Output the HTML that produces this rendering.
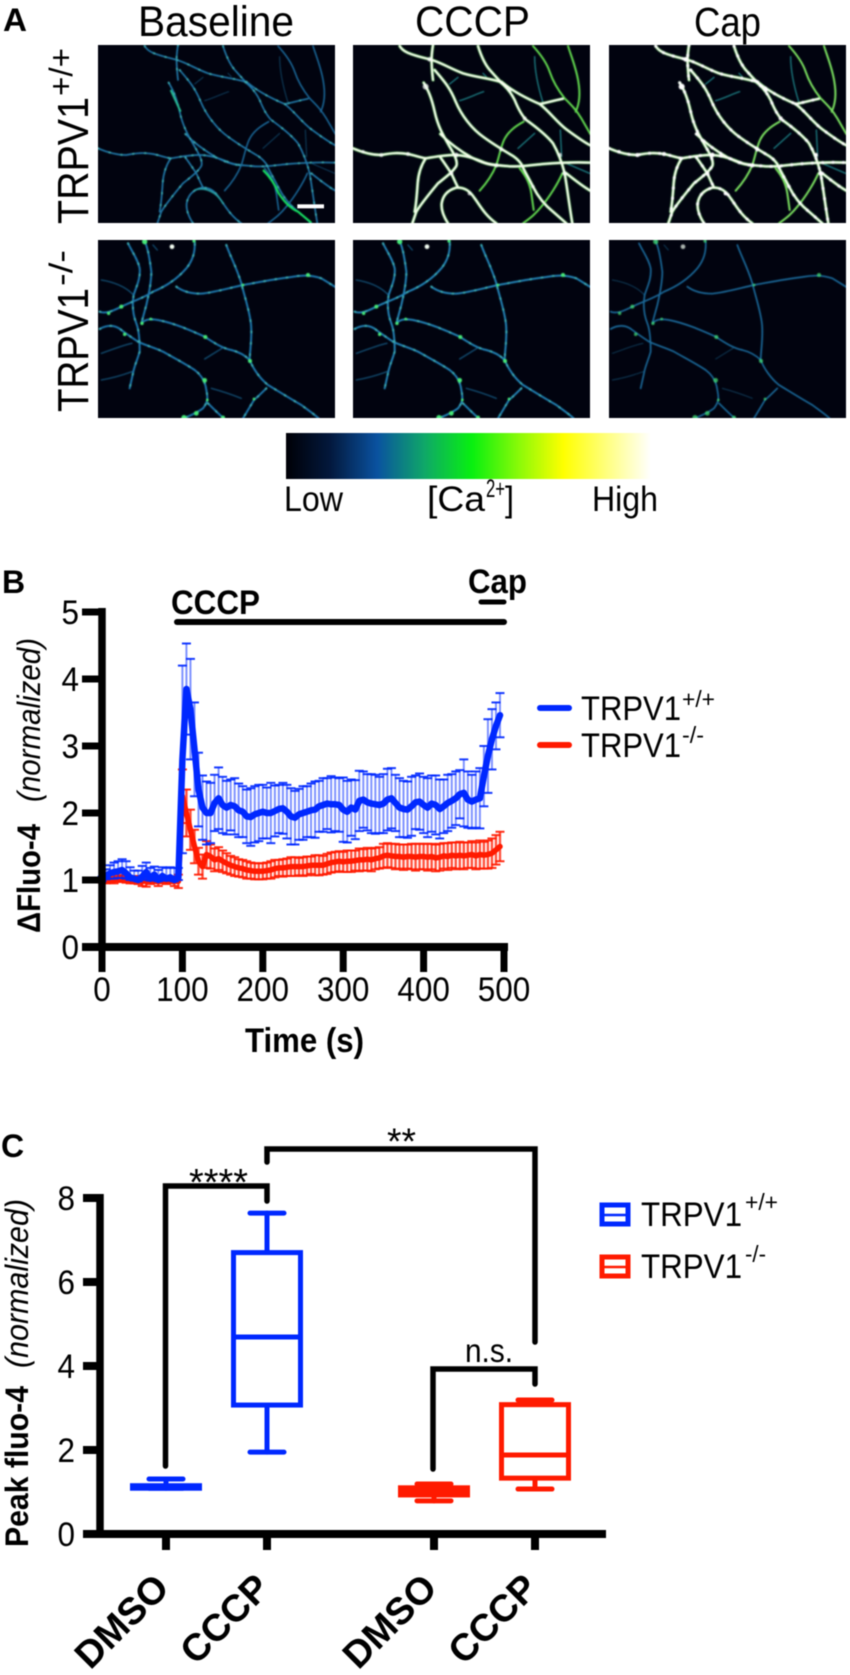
<!DOCTYPE html>
<html lang="en">
<head>
<meta charset="utf-8">
<title>TRPV1 calcium imaging figure</title>
<style>
html,body{margin:0;padding:0;background:#fff;}
#figure{display:block;filter:blur(.45px);font-family:"Liberation Sans",sans-serif;}
</style>
</head>
<body>
<svg id="figure" xmlns="http://www.w3.org/2000/svg" width="850" height="1675" viewBox="0 0 850 1675">
<defs>
  <linearGradient id="ca-gradient" x1="0" x2="1" y1="0" y2="0">
    <stop offset="0" stop-color="#000006"/>
    <stop offset=".12" stop-color="#03183c"/>
    <stop offset=".25" stop-color="#0a52a0"/>
    <stop offset=".38" stop-color="#0fa868"/>
    <stop offset=".51" stop-color="#08f010"/>
    <stop offset=".64" stop-color="#8cfa08"/>
    <stop offset=".76" stop-color="#ffff00"/>
    <stop offset=".88" stop-color="#ffff80"/>
    <stop offset="1" stop-color="#ffffff"/>
  </linearGradient>
  <filter id="soft" x="-5%" y="-5%" width="110%" height="110%"><feGaussianBlur stdDeviation="1.6"/></filter>
  <g id="nr1-main" fill="none" stroke-linecap="round" stroke-linejoin="round">
    <path d="M150 18 C160 35 175 42 240 58 C270 65 300 85 340 100 C380 112 420 115 450 125 C470 140 485 160 495 180 C505 205 515 225 530 240 C555 258 590 285 610 310 C630 345 640 380 645 400 C652 440 658 490 668 550"/>
    <path d="M250 15 C246 40 243 60 250 120"/>
    <path d="M222 128 C235 150 245 170 255 215 C265 260 280 285 300 320 C315 345 325 365 320 378 C310 395 290 410 265 430 C240 460 215 490 200 515 L188 550"/>
    <path d="M385 18 C395 50 410 80 425 95 C438 110 448 120 455 128"/>
    <path d="M255 90 C280 120 300 140 318 185 C335 225 365 265 400 290 C430 312 460 330 480 342 C495 350 505 358 515 372 C525 395 535 410 550 440 C565 470 585 495 610 515 L650 550"/>
    <path d="M10 325 C40 338 70 345 95 345 C130 338 150 338 175 342 C195 346 210 352 228 355 C260 350 285 345 315 345 C345 345 375 355 405 368 C425 375 445 376 470 378 C500 382 540 376 580 372 C630 368 680 366 722 368"/>
    <path d="M228 355 C215 375 206 400 204 430 C202 460 200 490 195 515"/>
    <path d="M455 125 C490 155 530 175 570 192 C600 186 620 180 640 176"/>
    <path d="M570 192 C600 215 620 245 650 268 C680 290 700 305 722 316"/>
    <path d="M272 282 C300 310 330 332 365 352 C395 368 420 376 445 376"/>
    <path d="M295 550 C282 530 274 510 276 490 C280 465 295 450 320 443 C345 442 360 452 375 475 C390 495 405 525 440 550"/>
    <path d="M272 352 C285 370 295 385 305 400 C312 415 318 430 325 442"/>
    <path d="M650 400 C675 420 700 440 722 452"/>
  </g>
  <g id="nr1-branch" fill="none" stroke-linecap="round" stroke-linejoin="round">
    <path d="M550 18 C570 40 590 65 600 95 C610 125 625 150 645 175 C665 195 680 210 695 235 L722 282"/>
    <path d="M655 18 C665 50 680 85 686 125 C692 160 690 190 678 215"/>
    <path d="M522 245 C495 260 475 275 463 300 C452 325 450 345 440 375 C430 400 410 430 390 452"/>
    <path d="M638 400 C625 430 600 470 575 500 C555 525 540 535 520 550"/>
    <path d="M510 385 C530 410 540 430 545 460 L552 510"/>
  </g>
  <g id="nr1-faint" fill="none" stroke-linecap="round" stroke-linejoin="round">
    <path d="M330 182 C355 175 380 162 402 155"/>
    <path d="M300 132 L325 112"/>
    <path d="M555 50 C555 90 565 140 580 188"/>
    <path d="M632 270 L636 350"/>
    <path d="M505 325 L555 280"/>
    <path d="M400 100 L410 110"/>
    <path d="M650 370 L720 400"/>
  </g>
  <g id="nr2-main" fill="none" stroke-linecap="round" stroke-linejoin="round">
    <path d="M15 230 C35 238 60 225 80 215 C110 200 145 190 175 170 C205 158 245 135 275 100 C295 75 302 50 300 18"/>
    <path d="M245 155 C265 170 290 176 320 176 C360 172 400 160 445 150 C490 142 540 132 590 126 C620 120 650 120 680 130 L722 156"/>
    <path d="M395 30 C405 60 425 95 440 145 C450 185 462 220 468 260 C474 300 466 340 465 375 C475 400 495 430 520 450 C545 465 585 490 620 510 C640 525 655 535 672 550"/>
    <path d="M515 460 C500 475 490 485 478 495 L445 550"/>
    <path d="M130 320 C155 332 180 338 205 350 C240 370 270 385 300 405 C320 420 332 440 335 465 C340 490 340 500 325 520 C305 535 285 542 268 550"/>
    <path d="M340 505 C355 520 370 535 387 550"/>
    <path d="M140 265 C150 255 160 250 190 255 C240 265 285 285 330 305 C360 325 385 340 410 345 C430 350 450 360 465 375"/>
    <path d="M100 25 C115 55 130 75 135 100 C138 130 125 155 117 180 C112 210 115 240 125 265 C135 290 135 330 135 350 C128 375 118 395 115 415 L105 460"/>
    <path d="M150 18 C160 40 165 70 170 110 C170 145 162 180 155 210 L140 265"/>
    <path d="M15 282 C35 270 60 268 80 285 C100 300 115 310 130 320"/>
  </g>
  <g id="nr2-faint" fill="none" stroke-linecap="round" stroke-linejoin="round">
    <path d="M20 355 C50 345 85 330 112 325"/>
    <path d="M20 435 C50 430 85 420 112 410"/>
    <path d="M382 340 L330 372"/>
    <path d="M350 460 C380 468 415 480 440 490"/>
    <path d="M20 135 C50 140 90 150 118 182"/>
    <path d="M175 30 L188 45"/>
  </g>
  <g id="nr2-dots" fill="#46e878">
    <circle cx="150" cy="20" r="8"/><circle cx="298" cy="18" r="5"/><circle cx="80" cy="215" r="6"/>
    <circle cx="42" cy="235" r="5"/><circle cx="142" cy="265" r="5"/><circle cx="90" cy="298" r="5"/>
    <circle cx="332" cy="306" r="6"/><circle cx="466" cy="378" r="6"/><circle cx="330" cy="436" r="7"/>
    <circle cx="305" cy="535" r="7"/><circle cx="268" cy="548" r="8"/><circle cx="385" cy="548" r="6"/>
    <circle cx="640" cy="120" r="6"/><circle cx="445" cy="150" r="4"/><circle cx="478" cy="492" r="4"/>
    <circle cx="168" cy="252" r="4"/><circle cx="338" cy="495" r="4"/>
    <circle cx="232" cy="35" r="7" fill="#f4fff4"/>
  </g>
  <g id="nr1-beads" fill="#ffffff">
    <circle cx="95" cy="345" r="6"/><circle cx="175" cy="342" r="6"/><circle cx="240" cy="58" r="7"/>
    <circle cx="228" cy="140" r="9"/><circle cx="320" cy="345" r="7"/><circle cx="455" cy="328" r="6"/>
    <circle cx="440" cy="376" r="6"/><circle cx="645" cy="400" r="7"/><circle cx="525" cy="235" r="6"/>
    <circle cx="480" cy="150" r="6"/><circle cx="305" cy="400" r="6"/><circle cx="360" cy="460" r="6"/>
    <circle cx="40" cy="335" r="5"/><circle cx="630" cy="345" r="6"/><circle cx="550" cy="440" r="5"/>
  </g>
</defs>

<rect width="850" height="1675" fill="#fff"/>

<g id="panel-a">
  <text x="3" y="31" font-size="32" font-weight="bold" textLength="24" lengthAdjust="spacingAndGlyphs">A</text>
  <text x="138" y="36" font-size="43" textLength="156" lengthAdjust="spacingAndGlyphs">Baseline</text>
  <text x="415" y="36" font-size="43" textLength="115" lengthAdjust="spacingAndGlyphs">CCCP</text>
  <text x="694" y="36" font-size="41" textLength="67" lengthAdjust="spacingAndGlyphs">Cap</text>

  <g transform="translate(88,224) rotate(-90)">
    <text font-size="44" x="0" y="0" textLength="127" lengthAdjust="spacingAndGlyphs">TRPV1</text>
    <text font-size="32" x="128" y="-16" textLength="48" lengthAdjust="spacingAndGlyphs">+/+</text>
  </g>
  <g transform="translate(88,412) rotate(-90)">
    <text font-size="44" x="0" y="0" textLength="124" lengthAdjust="spacingAndGlyphs">TRPV1</text>
    <text font-size="32" x="126" y="-16" textLength="36" lengthAdjust="spacingAndGlyphs">-/-</text>
  </g>

  <svg x="98" y="45" width="237" height="178" viewBox="10 15 711 534">
    <rect x="10" y="15" width="711" height="534" fill="#01030f"/>
    <g filter="url(#soft)">
      <use href="#nr1-main" stroke="#2078a8" stroke-width="5"/>
      <use href="#nr1-main" stroke="#3aa8b0" stroke-width="6" stroke-dasharray="2 34"/>
      <use href="#nr1-branch" stroke="#1c6a9c" stroke-width="4.5"/>
      <use href="#nr1-faint" stroke="#0f4060" stroke-width="3"/>
      <path d="M505 390 C525 410 540 430 552 460 C565 480 585 505 610 515 L650 548" fill="none" stroke="#18e060" stroke-width="6"/>
      <path d="M228 150 L258 215" fill="none" stroke="#28b890" stroke-width="6"/>
      <path d="M300 450 C330 440 365 455 385 490" fill="none" stroke="#289ca0" stroke-width="5"/>
    </g>
    <rect x="608" y="493" width="80" height="12" fill="#fff"/>
  </svg>

  <svg x="353" y="45" width="237" height="178" viewBox="10 15 711 534">
    <rect x="10" y="15" width="711" height="534" fill="#01030f"/>
    <g filter="url(#soft)">
      <use href="#nr1-faint" stroke="#1f7a80" stroke-width="4"/>
      <use href="#nr1-branch" stroke="#62d84f" stroke-width="6"/>
      <use href="#nr1-main" stroke="#5ccf5c" stroke-width="9"/>
      <use href="#nr1-main" stroke="#fbfff2" stroke-width="5.5"/>
      <use href="#nr1-beads" opacity=".7"/>
    </g>
  </svg>

  <svg x="609" y="45" width="237" height="178" viewBox="10 15 711 534">
    <rect x="10" y="15" width="711" height="534" fill="#01030f"/>
    <g filter="url(#soft)">
      <use href="#nr1-faint" stroke="#1f7a80" stroke-width="4"/>
      <use href="#nr1-branch" stroke="#7ae060" stroke-width="6"/>
      <use href="#nr1-main" stroke="#5ccf5c" stroke-width="9"/>
      <use href="#nr1-main" stroke="#fbfff2" stroke-width="5.5"/>
      <use href="#nr1-main" stroke="#ffffff" stroke-width="9" stroke-dasharray="1 30"/>
      <use href="#nr1-beads"/>
    </g>
  </svg>

  <svg x="98" y="240" width="237" height="178" viewBox="10 15 711 534">
    <rect x="10" y="15" width="711" height="534" fill="#01030f"/>
    <g filter="url(#soft)">
      <use href="#nr2-faint" stroke="#144e72" stroke-width="4"/>
      <use href="#nr2-main" stroke="#1f76aa" stroke-width="6"/>
      <use href="#nr2-main" stroke="#3aa8b0" stroke-width="6.5" stroke-dasharray="2 32"/>
      <use href="#nr2-dots"/>
    </g>
  </svg>

  <svg x="353" y="240" width="237" height="178" viewBox="10 15 711 534">
    <rect x="10" y="15" width="711" height="534" fill="#01030f"/>
    <g filter="url(#soft)">
      <use href="#nr2-faint" stroke="#144e72" stroke-width="4"/>
      <use href="#nr2-main" stroke="#2280b2" stroke-width="6"/>
      <use href="#nr2-main" stroke="#3aa8b0" stroke-width="6.5" stroke-dasharray="2 32"/>
      <use href="#nr2-dots"/>
    </g>
  </svg>

  <svg x="609" y="240" width="237" height="178" viewBox="10 15 711 534">
    <rect x="10" y="15" width="711" height="534" fill="#01030f"/>
    <g filter="url(#soft)">
      <use href="#nr2-faint" stroke="#0e3a56" stroke-width="3"/>
      <use href="#nr2-main" stroke="#1a6898" stroke-width="5"/>
      <use href="#nr2-dots" opacity=".7"/>
    </g>
  </svg>

  <rect x="286" y="433" width="365" height="46" fill="url(#ca-gradient)"/>
  <text x="284" y="511" font-size="35" textLength="59" lengthAdjust="spacingAndGlyphs">Low</text>
  <text x="427" y="511" font-size="35" textLength="58" lengthAdjust="spacingAndGlyphs">[Ca</text>
  <text x="486" y="497" font-size="25" textLength="19" lengthAdjust="spacingAndGlyphs">2+</text>
  <text x="505" y="511" font-size="35" textLength="9" lengthAdjust="spacingAndGlyphs">]</text>
  <text x="592" y="511" font-size="35" textLength="66" lengthAdjust="spacingAndGlyphs">High</text>
</g>

<g id="panel-b">
  <text x="2" y="593" font-size="32" font-weight="bold">B</text>
  <g>
    <text transform="translate(40,933) rotate(-90)" font-size="32" font-weight="bold" textLength="109" lengthAdjust="spacingAndGlyphs">ΔFluo-4</text>
    <text transform="translate(40,802) rotate(-90)" font-size="32" font-style="italic" textLength="164" lengthAdjust="spacingAndGlyphs">(normalized)</text>
  </g>
  <g id="b-series"></g>
  <g id="b-axes"></g>
  <text x="245" y="1052" font-size="34" font-weight="bold" textLength="119" lengthAdjust="spacingAndGlyphs">Time (s)</text>
  <line x1="177" x2="504" y1="622" y2="622" stroke="#000" stroke-width="6" stroke-linecap="round"/>
  <line x1="481" x2="504" y1="602" y2="602" stroke="#000" stroke-width="5" stroke-linecap="round"/>
  <text x="171" y="614" font-size="34" font-weight="bold" textLength="89" lengthAdjust="spacingAndGlyphs">CCCP</text>
  <text x="468" y="593" font-size="34" font-weight="bold" textLength="59" lengthAdjust="spacingAndGlyphs">Cap</text>
  <g>
    <line x1="540" x2="569" y1="708" y2="708" stroke="#0028ff" stroke-width="6" stroke-linecap="round"/>
    <text x="581" y="720" font-size="34" textLength="100" lengthAdjust="spacingAndGlyphs">TRPV1</text>
    <text x="682" y="707" font-size="23" textLength="33" lengthAdjust="spacingAndGlyphs">+/+</text>
  </g>
  <g>
    <line x1="540" x2="569" y1="745" y2="745" stroke="#ff1a00" stroke-width="6" stroke-linecap="round"/>
    <text x="581" y="757" font-size="34" textLength="100" lengthAdjust="spacingAndGlyphs">TRPV1</text>
    <text x="682" y="743" font-size="23" textLength="22" lengthAdjust="spacingAndGlyphs">-/-</text>
  </g>
</g>

<g id="panel-c">
  <text x="1" y="1157" font-size="32" font-weight="bold">C</text>
  <g>
    <text transform="translate(28,1547) rotate(-90)" font-size="32" font-weight="bold" textLength="161" lengthAdjust="spacingAndGlyphs">Peak fluo-4</text>
    <text transform="translate(28,1368) rotate(-90)" font-size="32" font-style="italic" textLength="169" lengthAdjust="spacingAndGlyphs">(normalized)</text>
  </g>
  <g id="c-axes"></g>
  <g id="c-boxes"></g>
  <g fill="none" stroke="#000" stroke-linecap="round">
    <path d="M165.5 1466 V1186 H267 V1201" stroke-width="5.5"/>
  </g>
  <text x="189" y="1195" font-size="38" textLength="59" lengthAdjust="spacingAndGlyphs">****</text>
  <g fill="none" stroke="#000" stroke-linecap="round">
    <path d="M267 1162 V1149 H535 V1342" stroke-width="5.5"/>
  </g>
  <text x="387" y="1154" font-size="37" textLength="29" lengthAdjust="spacingAndGlyphs">**</text>
  <g fill="none" stroke="#000" stroke-linecap="round">
    <path d="M433 1469 V1369 H535 V1384" stroke-width="5.5"/>
  </g>
  <text x="465" y="1362" font-size="33" textLength="48" lengthAdjust="spacingAndGlyphs">n.s.</text>
  <g>
    <rect x="602" y="1205" width="26" height="19" fill="#fff" stroke="#0028ff" stroke-width="5"/>
    <line x1="602" x2="628" y1="1215" y2="1215" stroke="#0028ff" stroke-width="2.5"/>
    <text x="641" y="1226" font-size="34" textLength="101" lengthAdjust="spacingAndGlyphs">TRPV1</text>
    <text x="745" y="1210" font-size="23" textLength="33" lengthAdjust="spacingAndGlyphs">+/+</text>
  </g>
  <g>
    <rect x="602" y="1257" width="26" height="19" fill="#fff" stroke="#ff1a00" stroke-width="5"/>
    <line x1="602" x2="628" y1="1267" y2="1267" stroke="#ff1a00" stroke-width="2.5"/>
    <text x="641" y="1278" font-size="34" textLength="101" lengthAdjust="spacingAndGlyphs">TRPV1</text>
    <text x="745" y="1262" font-size="23" textLength="21" lengthAdjust="spacingAndGlyphs">-/-</text>
  </g>
</g>
</svg>

<script>
/* ---------- Panel B data (one sample every 5 s) ---------- */
const sampleStepSeconds = 5;
const wildTypeMean = [
  1.00,1.06,1.10,1.12,1.13,1.15,1.10,1.04,1.02,1.00,
  1.05,1.12,1.02,1.08,1.00,1.06,1.02,1.04,1.00,1.04,
  2.80,3.85,3.55,2.95,2.35,2.08,2.00,2.00,2.15,2.22,
  2.12,2.08,2.12,2.10,2.04,2.02,1.95,1.94,1.98,2.00,
  2.02,2.00,2.00,2.03,2.06,2.07,2.02,1.95,1.93,1.98,
  2.00,2.02,2.04,2.05,2.10,2.12,2.14,2.13,2.13,2.12,
  2.05,2.02,2.08,2.05,2.18,2.20,2.16,2.14,2.13,2.12,
  2.14,2.20,2.22,2.15,2.08,2.06,2.05,2.10,2.16,2.17,
  2.12,2.08,2.14,2.12,2.06,2.10,2.15,2.18,2.22,2.28,
  2.30,2.20,2.17,2.20,2.22,2.55,2.85,3.10,3.30,3.46
];
const wildTypeError = [
  .05,.10,.12,.14,.15,.16,.18,.15,.12,.14,
  .16,.14,.16,.12,.15,.13,.16,.15,.18,.14,
  1.40,.68,.75,.70,.55,.48,.47,.45,.42,.46,
  .42,.40,.38,.42,.40,.38,.40,.43,.42,.42,
  .40,.38,.45,.38,.36,.38,.40,.42,.40,.38,
  .40,.38,.40,.42,.38,.40,.38,.42,.40,.40,
  .48,.46,.42,.44,.45,.42,.42,.44,.44,.42,
  .44,.46,.45,.42,.44,.42,.42,.44,.40,.42,
  .42,.44,.42,.44,.44,.40,.42,.40,.40,.36,
  .50,.42,.40,.42,.45,.45,.55,.45,.35,.33
];
/* lower whiskers of the first 20 wild-type samples are hidden close to the line */
const wildTypeBaselineLowerError = [
  .02,.05,.08,.10,.10,.12,.08,.04,.03,.02,
  .05,.10,.03,.07,.02,.06,.03,.04,.02,.04
];
const knockoutMean = [
  .98,.98,1.00,1.00,1.02,1.02,1.02,1.00,1.00,1.00,
  .98,.98,1.00,1.00,.98,1.00,1.00,1.00,.98,.98,
  2.25,2.00,1.75,1.50,1.28,1.20,1.38,1.35,1.30,1.32,
  1.28,1.25,1.22,1.20,1.18,1.17,1.15,1.14,1.13,1.13,
  1.13,1.14,1.15,1.17,1.18,1.18,1.19,1.20,1.20,1.20,
  1.20,1.21,1.22,1.22,1.22,1.22,1.24,1.26,1.27,1.28,
  1.27,1.28,1.28,1.29,1.30,1.30,1.31,1.30,1.32,1.33,
  1.36,1.37,1.36,1.35,1.35,1.34,1.35,1.35,1.34,1.35,
  1.35,1.34,1.35,1.33,1.34,1.36,1.35,1.37,1.36,1.37,
  1.36,1.37,1.38,1.36,1.38,1.37,1.38,1.40,1.45,1.50
];
const knockoutError = [
  .02,.03,.04,.05,.05,.05,.06,.05,.05,.06,
  .07,.08,.06,.05,.07,.05,.06,.05,.07,.10,
  .40,.35,.30,.25,.20,.18,.20,.18,.17,.17,
  .16,.15,.14,.14,.13,.13,.13,.12,.12,.12,
  .12,.12,.13,.13,.12,.13,.13,.14,.14,.13,
  .14,.14,.13,.15,.15,.14,.15,.15,.15,.15,
  .15,.16,.16,.15,.17,.16,.17,.17,.16,.16,
  .18,.18,.18,.19,.18,.19,.18,.19,.20,.19,
  .19,.20,.19,.20,.20,.19,.20,.19,.20,.20,
  .20,.19,.20,.20,.21,.20,.21,.22,.22,.22
];
const bYTicks = [0,1,2,3,4,5];
const bXTicks = [0,100,200,300,400,500];

/* ---------- Panel C data ---------- */
const cCategories = ["DMSO","CCCP","DMSO","CCCP"];
const cYTicks = [0,2,4,6,8];
const cWhiskerLow  = [1.09,1.95,0.79,1.07];
const cQuartile1   = [1.09,3.07,0.93,1.33];
const cMedian      = [1.12,4.69,1.02,1.88];
const cQuartile3   = [1.15,6.70,1.10,3.08];
const cWhiskerHigh = [1.31,7.64,1.19,3.19];
const cGroupColors = ["#0028ff","#0028ff","#ff1a00","#ff1a00"];

/* ---------- Axis functions ---------- */
const bX = function (t) { return 102 + t * 0.804; };
const bY = function (v) { return 947 - v * 67; };
const cY = function (v) { return 1534 - v * 42; };
const cX = function (i) { return [166, 267, 434, 535][i]; };

const NS = "http://www.w3.org/2000/svg";
function shape(tag, parent, geometry) {
  const node = document.createElementNS(NS, tag);
  for (const key in geometry) { node.setAttribute(key, geometry[key]); }
  parent.appendChild(node);
  return node;
}

/* ---------- Panel B: series ---------- */
const bSeries = document.getElementById("b-series");
function drawSeries(mean, error, lowerOverride, color, lineWidth, stemWidth, stemOpacity, label) {
  const group = shape("g", bSeries, {});
  
  
  mean.forEach(function (m, i) {
    const t = i * sampleStepSeconds;
    const x = bX(t);
    const lowerError = i < lowerOverride.length ? lowerOverride[i] : error[i];
    const up = bY(m + error[i]);
    const down = bY(m - lowerError);
    const stem = shape("line", group, { x1: x, x2: x, y1: up, y2: down, stroke: color, "stroke-width": stemWidth, opacity: stemOpacity });
    
    
    const capTop = shape("line", group, { x1: x - 4.5, x2: x + 4.5, y1: up, y2: up, stroke: color, "stroke-width": 2, opacity: .9 });
    
    
    const capBottom = shape("line", group, { x1: x - 4.5, x2: x + 4.5, y1: down, y2: down, stroke: color, "stroke-width": 2, opacity: .9 });
    
    
  });
  const d = mean.map(function (m, i) {
    return (i ? "L" : "M") + bX(i * sampleStepSeconds).toFixed(1) + " " + bY(m).toFixed(1);
  }).join(" ");
  const line = shape("path", group, { d: d, fill: "none", stroke: color, "stroke-width": lineWidth, "stroke-linejoin": "round", "stroke-linecap": "round" });
  
  
}
drawSeries(knockoutMean, knockoutError, [], "#ff1a00", 5.5, 2.4, .75, "knockout");
drawSeries(wildTypeMean, wildTypeError, wildTypeBaselineLowerError, "#0028ff", 6.5, 2, .5, "wild-type");

/* ---------- Panel B: axes ---------- */
const bAxes = document.getElementById("b-axes");
const bYLine = shape("line", bAxes, { x1: bX(0), x2: bX(0), y1: bY(5) - 4, y2: bY(0), stroke: "#000", "stroke-width": 7.5 });


const bXLine = shape("line", bAxes, { x1: 82, x2: bX(500) + 4, y1: bY(0), y2: bY(0), stroke: "#000", "stroke-width": 8 });


bYTicks.forEach(function (v) {
  const tick = shape("line", bAxes, { x1: 82, x2: bX(0), y1: bY(v), y2: bY(v), stroke: "#000", "stroke-width": 7 });
  
  
  const label = shape("text", bAxes, { x: 79, y: bY(v) + 12, "font-size": 34, "text-anchor": "end", textLength: 17.5, lengthAdjust: "spacingAndGlyphs" });
  
  
  label.textContent = v;
});
bXTicks.forEach(function (t) {
  const tick = shape("line", bAxes, { x1: bX(t), x2: bX(t), y1: bY(0), y2: 972, stroke: "#000", "stroke-width": 7 });
  
  
  const label = shape("text", bAxes, { x: bX(t), y: 1001, "font-size": 34, "text-anchor": "middle", textLength: String(t).length * 17.5, lengthAdjust: "spacingAndGlyphs" });
  
  
  label.textContent = t;
});

/* ---------- Panel C: axes ---------- */
const cAxes = document.getElementById("c-axes");
const cYLine = shape("line", cAxes, { x1: 100, x2: 100, y1: cY(8) - 4, y2: cY(0), stroke: "#000", "stroke-width": 7.5 });


const cXLine = shape("line", cAxes, { x1: 83, x2: 606, y1: cY(0), y2: cY(0), stroke: "#000", "stroke-width": 8 });


cYTicks.forEach(function (v) {
  const tick = shape("line", cAxes, { x1: 83, x2: 100, y1: cY(v), y2: cY(v), stroke: "#000", "stroke-width": 8 });
  
  
  const label = shape("text", cAxes, { x: 75, y: cY(v) + 12, "font-size": 34, "text-anchor": "end", textLength: 17.5, lengthAdjust: "spacingAndGlyphs" });
  
  
  label.textContent = v;
});
cCategories.forEach(function (name, i) {
  const x = cX(i);
  const tick = shape("line", cAxes, { x1: x, x2: x, y1: cY(0), y2: 1550, stroke: "#000", "stroke-width": 8 });
  
  
  const label = shape("text", cAxes, { transform: "translate(" + (x + 5) + ",1590) rotate(-45)", "font-size": 38, "font-weight": "bold", "text-anchor": "end" });
  
  
  label.textContent = name;
});

/* ---------- Panel C: boxes ---------- */
const cBoxes = document.getElementById("c-boxes");
const boxHalfWidth = 33.5;
const capHalfWidth = 17;
cCategories.forEach(function (name, i) {
  const x = cX(i);
  const color = cGroupColors[i];
  const group = shape("g", cBoxes, {});
  
  
  const style = { stroke: color, "stroke-width": 5, fill: "none", "stroke-linecap": "round" };
  const whisker = shape("line", group, Object.assign({ x1: x, x2: x, y1: cY(cWhiskerHigh[i]), y2: cY(cWhiskerLow[i]) }, style));
  
  
  const capHigh = shape("line", group, Object.assign({ x1: x - capHalfWidth, x2: x + capHalfWidth, y1: cY(cWhiskerHigh[i]), y2: cY(cWhiskerHigh[i]) }, style));
  
  
  const capLow = shape("line", group, Object.assign({ x1: x - capHalfWidth, x2: x + capHalfWidth, y1: cY(cWhiskerLow[i]), y2: cY(cWhiskerLow[i]) }, style));
  
  
  const box = shape("rect", group, { x: x - boxHalfWidth, y: cY(cQuartile3[i]), width: boxHalfWidth * 2, height: cY(cQuartile1[i]) - cY(cQuartile3[i]), fill: "#fff", stroke: color, "stroke-width": 5 });
  
  
  const median = shape("line", group, { x1: x - boxHalfWidth, x2: x + boxHalfWidth, y1: cY(cMedian[i]), y2: cY(cMedian[i]), stroke: color, "stroke-width": 5 });
  
  
});
</script>
</body>
</html>
